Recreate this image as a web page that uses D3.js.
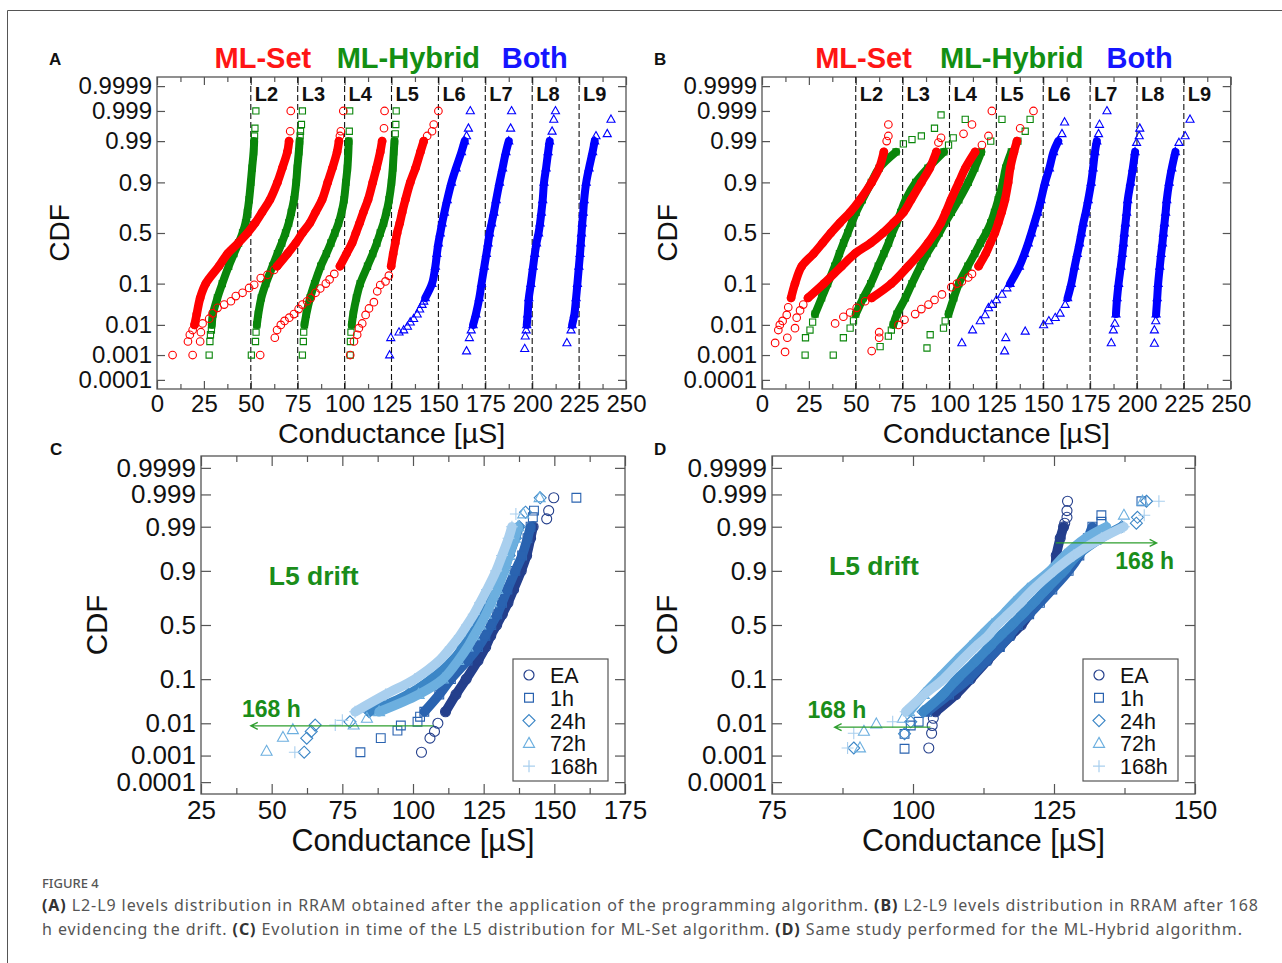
<!DOCTYPE html>
<meta charset="utf-8">
<title>Figure 4 - RRAM level distributions</title>
<style>
  body { margin: 0; background: #fff; }
  svg text { font-family: "Liberation Sans", Arial, Helvetica, sans-serif; }
</style>
<body>
<script src="https://d3js.org/d3.v7.min.js"></script>
<script>
// CDF values where the dense part of each distribution was read
var cdfLevels = [0.01, 0.02, 0.05, 0.1, 0.2, 0.3, 0.4, 0.5, 0.6, 0.7, 0.8, 0.9, 0.95, 0.98, 0.99];
var cdfTicks = [0.0001, 0.001, 0.01, 0.1, 0.5, 0.9, 0.99, 0.999, 0.9999];
var cdfTickLabels = ["0.0001", "0.001", "0.01", "0.1", "0.5", "0.9", "0.99", "0.999", "0.9999"];
var levelNames = ["L2", "L3", "L4", "L5", "L6", "L7", "L8", "L9"];
var levelBounds = [50, 75, 100, 125, 150, 175, 200, 225];
var algoNames = ["ML-Set", "ML-Hybrid", "Both"];
var timeLabels = ["EA", "1h", "24h", "72h", "168h"];

// ---- panel A : after programming (conductance in uS at cdfLevels, null = sparse) ----
var aSetCore = [
  [20, 21.2, 23, 26, 33, 37.6, 43.3, 48.2, 52.3, 56, 60.2, 64.2, 66.8, 69.5, 70.4],
  [null, null, null, null, 64, 69.5, 74, 77.5, 81.5, 84.5, 88, 91, 93.5, 96, 97],
  [null, null, null, null, 97.5, 101, 104, 106, 108, 110, 112.5, 115, 117, 119, 120],
  [null, null, null, null, 124.8, 125.9, 127, 128, 129.4, 130.7, 132.4, 135, 137.8, 140.4, 142.2]
];
// isolated points [conductance, CDF]
var aSetTail = [
  [[8.3, 0.001], [16.5, 0.003], [17.5, 0.005], [19, 0.007], [71, 0.995], [71.3, 0.999]],
  [[19, 0.001], [23, 0.003], [23.4, 0.006], [24.3, 0.011], [27.8, 0.015], [29.6, 0.021], [32.3, 0.029], [35.8, 0.035], [39.4, 0.042], [42, 0.055], [45.6, 0.065], [49.1, 0.082], [51.8, 0.095], [55.3, 0.127], [58.9, 0.145], [62.4, 0.175], [97.5, 0.993], [98, 0.995], [99.3, 0.999]],
  [[55, 0.001], [62.8, 0.004], [64, 0.007], [66, 0.01], [68, 0.013], [70.5, 0.016], [73, 0.02], [75.5, 0.027], [77.5, 0.035], [80, 0.042], [82, 0.05], [84.5, 0.065], [87, 0.08], [90, 0.1], [92, 0.12], [94.5, 0.15], [121, 0.996], [121.3, 0.999]],
  [[103, 0.001], [105, 0.003], [106.7, 0.005], [107.6, 0.008], [109.4, 0.011], [111.2, 0.019], [113, 0.028], [115.6, 0.04], [117.4, 0.07], [119, 0.094], [121.8, 0.11], [123.6, 0.14], [144, 0.993], [146.6, 0.995], [147.5, 0.997], [150, 0.999]]
];
var aHybCore = [
  [29.2, 29.8, 32.2, 34.8, 38.2, 41, 43.5, 45.6, 47.2, 48.2, 49.1, 50, 50.7, 51.5, 51.8],
  [53.2, 54, 55.6, 58, 61.6, 64.2, 66.5, 68.5, 70.2, 71.6, 73, 74.2, 74.8, 75.6, 76],
  [78.6, 79.6, 81.6, 84, 87.3, 90.3, 92.7, 94.8, 96.8, 98.4, 99.7, 100.7, 101.5, 102, 102.2],
  [103.8, 104.6, 106.3, 108.3, 112.2, 115, 117.2, 119, 120.8, 122.3, 123.7, 125, 125.7, 126.2, 126.6]
];
var aHybTail = [
  [[27.8, 0.001], [28.2, 0.003], [28.5, 0.005], [29, 0.007], [52, 0.993], [52.2, 0.996], [52.7, 0.999]],
  [[50.3, 0.001], [52.5, 0.003], [52.8, 0.006], [76.3, 0.993], [76.5, 0.995], [77, 0.997], [77.5, 0.999]],
  [[77.5, 0.001], [78, 0.003], [78.2, 0.006], [102.5, 0.995], [102.7, 0.999]],
  [[103, 0.001], [103.1, 0.003], [103.4, 0.006], [127, 0.994], [127.3, 0.997], [127.5, 0.999]]
];
var aBothCore = [
  [null, null, 143, 146.6, 148.4, 149.2, 150, 151, 152, 153.2, 154.7, 157, 159.4, 162.3, 164],
  [168.5, 170, 171.8, 173, 174.5, 175.6, 176.5, 177.3, 178.4, 179.6, 180.8, 182.6, 184.2, 186, 187.5],
  [197.1, 197.6, 198.2, 199.3, 200.5, 201.4, 202.3, 203.4, 204.2, 204.9, 205.6, 206.3, 207.4, 208.5, 209.3],
  [221.3, 222.5, 223.4, 224.1, 224.9, 225.5, 225.9, 226.3, 226.7, 227.2, 227.7, 228.8, 230.3, 232.2, 233.3]
];
var aBothTail = [
  [[124, 0.001], [124.6, 0.004], [129, 0.006], [131.5, 0.007], [133.5, 0.009], [135, 0.012], [136.8, 0.015], [138.7, 0.02], [140, 0.027], [141.3, 0.035], [142.2, 0.042], [165, 0.993], [166, 0.996], [167, 0.999]],
  [[165, 0.0014], [166.5, 0.004], [167.5, 0.007], [188.5, 0.996], [189, 0.999]],
  [[196, 0.0017], [196.3, 0.0045], [196.8, 0.007], [210.6, 0.995], [211.5, 0.998], [212.4, 0.999]],
  [[218.5, 0.0027], [220.7, 0.007], [234, 0.993], [240, 0.994], [242, 0.998]]
];

// ---- panel B : after 168 h ----
var bSetCore = [
  [null, null, 15.5, 17.6, 21.2, 27.5, 32.3, 36.7, 41.5, 47, 52.3, 58.5, 62.5, 65, null],
  [null, null, 24.5, 33, 42.5, 49.5, 58, 64.5, 70, 75.5, 79.5, 85, 89.5, 93, null],
  [null, null, 58.5, 69, 78, 84, 88.5, 92.2, 95.4, 98, 100.8, 105, 108.5, 113.7, null],
  [null, null, null, null, 115.5, 119.3, 121.8, 124.2, 126, 127.8, 129.6, 131.3, 132.4, 134.4, 136]
];
var bSetTail = [
  [[7, 0.0027], [8.7, 0.007], [9.5, 0.01], [11, 0.013], [13.2, 0.019], [14, 0.03], [66.5, 0.99], [67.4, 0.993], [67.4, 0.997]],
  [[12.3, 0.0013], [13.5, 0.004], [17.6, 0.008], [18.5, 0.016], [20.3, 0.025], [22, 0.035], [94.1, 0.989], [95.5, 0.992], [107.5, 0.994], [112, 0.997]],
  [[39, 0.011], [43.4, 0.017], [47, 0.022], [50.5, 0.029], [55, 0.042], [117.3, 0.987], [120.8, 0.993], [122.6, 0.999]],
  [[58.5, 0.0014], [62.5, 0.004], [62.5, 0.006], [72.8, 0.01], [76, 0.014], [81.7, 0.02], [85, 0.027], [88.8, 0.035], [92, 0.045], [96, 0.06], [101, 0.085], [104, 0.1], [106.6, 0.11], [110, 0.13], [112, 0.15], [137.7, 0.996], [144.8, 0.999]]
];
var bHybCore = [
  [null, 28.3, 31.8, 35, 38.8, 41.3, 43.5, 45.7, 47.8, 50.2, 53.5, 58.3, 62.5, 71.5, null],
  [null, 50, 54, 58, 62, 65, 67.5, 69.5, 71.8, 74, 76.6, 82, 88.5, 97, null],
  [70, 72, 76.5, 80, 84.5, 88, 91.5, 94.5, 97.5, 101, 105, 110, 113.5, 117, null],
  [null, 99.5, 102.3, 105, 109.8, 113.5, 116.5, 119.5, 122, 124, 126, 128.5, 130, 133, null]
];
var bHybTail = [
  [[23, 0.001], [23.2, 0.004], [25.6, 0.007], [27, 0.012], [75.4, 0.988], [80, 0.991], [85, 0.993], [92, 0.996], [95.5, 0.9986]],
  [[38, 0.001], [43.4, 0.004], [47, 0.008], [48.8, 0.013], [99.5, 0.987], [102, 0.992], [108.4, 0.998]],
  [[63, 0.002], [67.4, 0.0045], [69, 0.007], [122, 0.99], [128, 0.998]],
  [[88, 0.0018], [89.7, 0.005], [96.8, 0.008], [97.7, 0.013], [136.5, 0.99], [140.4, 0.995], [143, 0.998]]
];
var bBothCore = [
  [null, null, null, 132.3, 137.3, 140, 142, 143.7, 145.3, 147, 148.8, 151, 153.3, 155.5, 158],
  [null, null, 163, 165, 166.8, 168.2, 169.4, 170.4, 171.4, 172.7, 174, 175.6, 176.6, 177.6, 178.6],
  [null, 188.8, 189.4, 190.2, 191.4, 192.2, 192.8, 193.3, 193.9, 194.5, 195.1, 196.6, 197.8, 199, null],
  [null, 210.2, 210.8, 211.3, 212.2, 212.9, 213.6, 214.1, 214.7, 215.3, 215.9, 217.2, 218.6, 220.5, null]
];
var bBothTail = [
  [[106.6, 0.0027], [112.3, 0.007], [116.4, 0.013], [119, 0.019], [120.8, 0.029], [122.6, 0.035], [125, 0.045], [128, 0.06], [130.6, 0.082], [160, 0.994], [161.4, 0.9975]],
  [[129.4, 0.0014], [130, 0.004], [140.4, 0.0064], [150.2, 0.01], [153, 0.013], [156.4, 0.016], [159, 0.021], [161.7, 0.035], [179.5, 0.994], [180, 0.997], [184, 0.999]],
  [[186.3, 0.0027], [187.4, 0.007], [188.2, 0.011], [199.8, 0.989], [201.2, 0.993], [201.5, 0.996]],
  [[209.3, 0.0026], [209.3, 0.007], [210, 0.013], [222.4, 0.989], [225.7, 0.993], [228.3, 0.998]]
];

// ---- panel C : L5 drift, ML-Set (EA, 1h, 24h, 72h, 168h) ----
var cCore = [
  [null, 111.5, 115.2, 118.8, 123, 125.7, 127.5, 129.6, 131.6, 133.6, 135.6, 138.3, 140.2, 141.6, 142.5],
  [null, 104, 109.3, 113.4, 119.3, 123, 125.6, 127.7, 129.8, 131.5, 133.4, 136.2, 138.6, 140.5, 141.6],
  [null, 84.5, 98.3, 106.5, 114, 117.7, 120.5, 122.8, 124.8, 127, 129.3, 132, 134, 136.2, 137.6],
  [null, 88, 102, 110.6, 116, 119.3, 121.6, 123.8, 125.8, 127.7, 129.8, 132.3, 134, 136, 137.2],
  [null, 79.5, 90.3, 100.6, 109.3, 113.4, 116.6, 119.1, 121.5, 123.7, 126.2, 129.4, 131.5, 133.8, 135]
];
var cTail = [
  [[103, 0.0013], [106, 0.0037], [107.6, 0.0059], [108.8, 0.01], [147.3, 0.994], [148, 0.9966], [149.8, 0.9987]],
  [[81.4, 0.0013], [88.6, 0.0037], [94.5, 0.0062], [95.7, 0.0087], [101.6, 0.011], [102.5, 0.015], [142.4, 0.9946], [142.8, 0.9966], [157.8, 0.9987]],
  [[61.5, 0.0013], [62.4, 0.0037], [64, 0.0059], [65.4, 0.0089], [77.7, 0.011], [139.8, 0.9962], [145, 0.9987]],
  [[48.2, 0.0014], [54, 0.0039], [57.5, 0.0066], [79, 0.0089], [83.7, 0.0136], [139, 0.9957], [144.8, 0.9987]],
  [[58.2, 0.0013], [72.5, 0.0089], [75, 0.012], [136.4, 0.9957]]
];

// ---- panel D : L5 drift, ML-Hybrid ----
var dCore = [
  [null, 104, 107.6, 110.2, 113.2, 115.4, 117.3, 119.2, 120.6, 122, 123.9, 125.1, 125.4, 126.1, 126.7],
  [null, 102.5, 106.4, 109.8, 113, 115.4, 117.1, 118.6, 120.6, 122.5, 124.7, 127.6, 129.5, 131, 131.8],
  [null, 101.8, 105.3, 107.8, 111.2, 113.5, 115.5, 117.5, 119.4, 121.4, 123.6, 126.8, 129.1, 133.3, 137],
  [null, 99.3, 101.9, 104.5, 107.7, 110.1, 112.1, 114, 116, 117.9, 120.3, 124.3, 126.9, 130.6, 134.3],
  [null, 98.7, 102, 105.4, 108.6, 111, 113.3, 114.9, 116.9, 119, 121.3, 125, 128.5, 133.4, 137.4]
];
var dTail = [
  [[102.8, 0.0018], [103.3, 0.0052], [103.4, 0.0087], [103.6, 0.0136], [126.9, 0.992], [127.3, 0.9946], [127.3, 0.9966], [127.4, 0.9983]],
  [[98.5, 0.0017], [98.5, 0.005], [99.6, 0.0087], [101, 0.011], [133.4, 0.9927], [133.4, 0.9953], [140.5, 0.9983]],
  [[89.5, 0.0018], [98.5, 0.005], [99.6, 0.011], [139.6, 0.992], [139.8, 0.9946], [141.4, 0.9983]],
  [[90.6, 0.0018], [91.3, 0.0059], [93.5, 0.0096], [98.2, 0.0136], [137.4, 0.9953], [140.7, 0.9983]],
  [[88.4, 0.0018], [89.5, 0.0052], [96.4, 0.011], [141, 0.9953], [143.6, 0.9983]]
];

// drift arrows [from uS, to uS, CDF]
var cArrow = [107.2, 42.6, 0.0085];
var dArrowLow = [103.1, 86.1, 0.0078];
var dArrowHigh = [125.3, 143.2, 0.974];

var algoColors = ["#ff0000", "#0a860a", "#0000ff"];
var titleColors = ["#ff1515", "#138f13", "#1515ff"];
var timeColors = ["#243f8c", "#2a63b0", "#3c86c6", "#6cafdf", "#a9cfee"];
var timeShapes = ["circle", "square", "diamond", "triangle", "plus"];
var annotColor = "#1a8d1a";

// inverse normal CDF (Acklam) for the probability axis
function probit(p) {
  var a = [-39.69683028665376, 220.9460984245205, -275.9285104469687, 138.357751867269, -30.66479806614716, 2.506628277459239];
  var b = [-54.47609879822406, 161.5858368580409, -155.6989798598866, 66.80131188771972, -13.28068155288572];
  var c = [-0.007784894002430293, -0.3223964580411365, -2.400758277161838, -2.549732539343734, 4.374664141464968, 2.938163982698783];
  var d = [0.007784695709041462, 0.3224671290700398, 2.445134137142996, 3.754408661907416];
  var q, r;
  if (p < 0.02425) {
    q = Math.sqrt(-2 * Math.log(p));
    return (((((c[0] * q + c[1]) * q + c[2]) * q + c[3]) * q + c[4]) * q + c[5]) / ((((d[0] * q + d[1]) * q + d[2]) * q + d[3]) * q + 1);
  }
  if (p > 1 - 0.02425) {
    q = Math.sqrt(-2 * Math.log(1 - p));
    return -(((((c[0] * q + c[1]) * q + c[2]) * q + c[3]) * q + c[4]) * q + c[5]) / ((((d[0] * q + d[1]) * q + d[2]) * q + d[3]) * q + 1);
  }
  q = p - 0.5; r = q * q;
  return (((((a[0] * r + a[1]) * r + a[2]) * r + a[3]) * r + a[4]) * r + a[5]) * q / (((((b[0] * r + b[1]) * r + b[2]) * r + b[3]) * r + b[4]) * r + 1);
}

function markerPath(shape, s) {
  if (shape == "circle") return "M" + s + ",0A" + s + "," + s + " 0 1,1 " + (-s) + ",0A" + s + "," + s + " 0 1,1 " + s + ",0Z";
  if (shape == "square") return "M" + (-s) + "," + (-s) + "h" + 2 * s + "v" + 2 * s + "h" + (-2 * s) + "Z";
  if (shape == "diamond") return "M0," + (-s) + "L" + s + ",0L0," + s + "L" + (-s) + ",0Z";
  if (shape == "triangle") return "M0," + (-s) + "L" + 0.92 * s + "," + 0.65 * s + "L" + (-0.92 * s) + "," + 0.65 * s + "Z";
  return "M" + (-s) + ",0H" + s + "M0," + (-s) + "V" + s;
}

var svg = d3.select("body").append("svg").attr("width", 1282).attr("height", 963);
svg.append("rect").attr("width", 1282).attr("height", 963).attr("fill", "#fff");
svg.append("path").attr("d", "M7.5,963V10.5H1282").attr("fill", "none").attr("stroke", "#555").attr("stroke-width", 1);

function styleAxis(a, fs) {
  a.select(".domain").remove();
  a.selectAll("line").attr("stroke", "#555").attr("stroke-width", 1.2);
  a.selectAll("text").attr("fill", "#111").attr("font-size", fs);
}

function panel(c) {
  var x = d3.scaleLinear().domain(c.xDomain).range([c.left, c.right]);
  var y = d3.scaleLinear().domain([-c.zMax, c.zMax]).range([c.bottom, c.top]);
  var yp = function (p) { return y(probit(p)); };
  var g = svg.append("g");
  var zt = cdfTicks.map(probit);

  g.append("g").attr("transform", "translate(0," + c.bottom + ")")
    .call(d3.axisBottom(x).tickValues(c.xMinor).tickSize(-c.minor).tickFormat(function () { return ""; }))
    .call(styleAxis, c.font);
  g.append("g").attr("transform", "translate(0," + c.top + ")")
    .call(d3.axisTop(x).tickValues(c.xMinor).tickSize(-c.minor).tickFormat(function () { return ""; }))
    .call(styleAxis, c.font);
  g.append("g").attr("transform", "translate(0," + c.bottom + ")")
    .call(d3.axisBottom(x).tickValues(c.xTicks).tickSize(-c.tick).tickPadding(c.xpad).tickFormat(d3.format("d")))
    .call(styleAxis, c.font);
  g.append("g").attr("transform", "translate(0," + c.top + ")")
    .call(d3.axisTop(x).tickValues(c.xTicks).tickSize(-c.tick).tickFormat(function () { return ""; }))
    .call(styleAxis, c.font);
  g.append("g").attr("transform", "translate(" + c.left + ",0)")
    .call(d3.axisLeft(y).tickValues(zt).tickSize(-c.tick).tickPadding(5)
      .tickFormat(function (d, i) { return cdfTickLabels[i]; }))
    .call(styleAxis, c.font);
  g.append("g").attr("transform", "translate(" + c.right + ",0)")
    .call(d3.axisRight(y).tickValues(zt).tickSize(-c.tick).tickFormat(function () { return ""; }))
    .call(styleAxis, c.font);

  g.append("rect").attr("x", c.left).attr("y", c.top)
    .attr("width", c.right - c.left).attr("height", c.bottom - c.top)
    .attr("fill", "none").attr("stroke", "#555").attr("stroke-width", 1.3);

  g.append("text").attr("transform", "translate(" + c.cdfX + "," + (c.top + c.bottom) / 2 + ") rotate(-90)")
    .attr("text-anchor", "middle").attr("font-size", c.cdfSize).attr("fill", "#111").text("CDF");
  g.append("text").attr("x", (c.left + c.right) / 2).attr("y", c.xTitleY)
    .attr("text-anchor", "middle").attr("font-size", c.xTitleSize).attr("fill", "#111").text("Conductance [\u00b5S]");
  svg.append("text").attr("x", c.letterX).attr("y", c.letterY).attr("font-size", 17)
    .attr("font-weight", "bold").attr("fill", "#111").text(c.letter);

  return { g: g, x: x, yp: yp, c: c };
}

function series(P, core, tail, color, shape, size, band) {
  var pts = cdfLevels.map(function (p, i) { return [core[i], p]; });
  var line = d3.line()
    .defined(function (d) { return d[0] != null; })
    .x(function (d) { return P.x(d[0]); })
    .y(function (d) { return P.yp(d[1]); })
    .curve(d3.curveCatmullRom.alpha(0.5));
  P.g.append("path").datum(pts).attr("d", line)
    .attr("fill", "none").attr("stroke", color).attr("stroke-width", band)
    .attr("stroke-linecap", "round").attr("stroke-linejoin", "round");
  var marks = pts.filter(function (d) { return d[0] != null; }).concat(tail);
  P.g.append("g").selectAll("path").data(marks).join("path")
    .attr("transform", function (d) { return "translate(" + P.x(d[0]) + "," + P.yp(d[1]) + ")"; })
    .attr("d", markerPath(shape, size))
    .attr("fill", "none").attr("stroke", color).attr("stroke-width", 1.1);
}

function levelPanel(P, set, hyb, both, titleX) {
  var c = P.c;
  levelBounds.forEach(function (v, i) {
    P.g.append("line").attr("x1", P.x(v)).attr("x2", P.x(v)).attr("y1", c.top).attr("y2", c.bottom)
      .attr("stroke", "#111").attr("stroke-width", 1.1).attr("stroke-dasharray", "6,3");
    P.g.append("text").attr("x", P.x(v) + 4).attr("y", c.top + 24).attr("font-size", 20)
      .attr("font-weight", "bold").attr("fill", "#111").text(levelNames[i]);
  });
  for (var i = 0; i < 4; i++) series(P, both[0][i], both[1][i], algoColors[2], "triangle", 4.4, 8);
  for (i = 0; i < 4; i++) series(P, hyb[0][i], hyb[1][i], algoColors[1], "square", 3.1, 8);
  for (i = 0; i < 4; i++) series(P, set[0][i], set[1][i], algoColors[0], "circle", 3.8, 8.5);
  algoNames.forEach(function (n, k) {
    svg.append("text").attr("x", titleX[k]).attr("y", 68).attr("font-size", 29)
      .attr("font-weight", "bold").attr("fill", titleColors[k]).text(n);
  });
}

function arrow(P, a) {
  var x1 = P.x(a[0]), x2 = P.x(a[1]), yy = P.yp(a[2]);
  var s = x2 < x1 ? 1 : -1;
  P.g.append("path")
    .attr("d", "M" + x1 + "," + yy + "H" + x2 + "M" + (x2 + s * 7) + "," + (yy - 3.5) + "L" + x2 + "," + yy + "L" + (x2 + s * 7) + "," + (yy + 3.5))
    .attr("fill", "none").attr("stroke", "#2e9e2e").attr("stroke-width", 1.3);
}

function note(P, g, p, txt, size, anchor) {
  P.g.append("text").attr("x", P.x(g)).attr("y", P.yp(p)).attr("font-size", size)
    .attr("font-weight", "bold").attr("fill", annotColor).attr("text-anchor", anchor || "start").text(txt);
}

function markSize(shape) {
  return shape == "circle" ? 5 : shape == "square" ? 4.4 : 6;
}

function driftPanel(P, core, tail) {
  for (var i = 0; i < 5; i++) {
    series(P, core[i], tail[i], timeColors[i], timeShapes[i], markSize(timeShapes[i]), 9.5);
  }
  var c = P.c;
  var bx = c.right - 112, by = c.bottom - 135;
  P.g.append("rect").attr("x", bx).attr("y", by).attr("width", 95).attr("height", 122)
    .attr("fill", "#fff").attr("stroke", "#555").attr("stroke-width", 1.2);
  timeLabels.forEach(function (t, i) {
    var cy = by + 16 + i * 22.8;
    P.g.append("path").attr("transform", "translate(" + (bx + 16) + "," + cy + ")")
      .attr("d", markerPath(timeShapes[i], markSize(timeShapes[i]))).attr("fill", "none")
      .attr("stroke", timeColors[i]).attr("stroke-width", 1.2);
    P.g.append("text").attr("x", bx + 37).attr("y", cy + 8).attr("font-size", 21.5)
      .attr("fill", "#111").text(t);
  });
}

var A = panel({ left: 157, right: 626, top: 77, bottom: 389, xDomain: [0, 250], zMax: 3.95,
  xTicks: d3.range(0, 251, 25), xMinor: d3.range(12.5, 250, 25), tick: 8, minor: 5, font: 24, xpad: 6,
  cdfX: 69, cdfSize: 28, xTitleY: 443, xTitleSize: 28.5, letter: "A", letterX: 49, letterY: 65 });
levelPanel(A, [aSetCore, aSetTail], [aHybCore, aHybTail], [aBothCore, aBothTail], [214.6, 336.7, 501.7]);

var B = panel({ left: 762, right: 1230.7, top: 77, bottom: 389, xDomain: [0, 250], zMax: 3.95,
  xTicks: d3.range(0, 251, 25), xMinor: d3.range(12.5, 250, 25), tick: 8, minor: 5, font: 24, xpad: 6,
  cdfX: 677, cdfSize: 28, xTitleY: 443, xTitleSize: 28.5, letter: "B", letterX: 654, letterY: 65 });
levelPanel(B, [bSetCore, bSetTail], [bHybCore, bHybTail], [bBothCore, bBothTail], [815.2, 940, 1106.6]);

var C = panel({ left: 201, right: 625, top: 456, bottom: 794, xDomain: [25, 175], zMax: 4.0,
  xTicks: d3.range(25, 176, 25), xMinor: d3.range(37.5, 175, 25), tick: 10, minor: 6, font: 26, xpad: 7,
  cdfX: 107, cdfSize: 29.5, xTitleY: 851, xTitleSize: 30.5, letter: "C", letterX: 50, letterY: 455 });
driftPanel(C, cCore, cTail);
arrow(C, cArrow);
note(C, 39.5, 0.0146, "168 h", 23);
note(C, 49, 0.831, "L5 drift", 26.5);

var D = panel({ left: 772, right: 1195, top: 456, bottom: 794, xDomain: [75, 150], zMax: 4.0,
  xTicks: [75, 100, 125, 150], xMinor: [87.5, 112.5, 137.5], tick: 10, minor: 6, font: 26, xpad: 7,
  cdfX: 677, cdfSize: 29.5, xTitleY: 851, xTitleSize: 30.5, letter: "D", letterX: 654, letterY: 455 });
driftPanel(D, dCore, dTail);
arrow(D, dArrowLow);
arrow(D, dArrowHigh);
note(D, 81.3, 0.0136, "168 h", 23);
note(D, 146.3, 0.908, "168 h", 23, "end");
note(D, 85.1, 0.884, "L5 drift", 26.5);

// caption
var capFont = '"Noto Sans", "Open Sans", sans-serif';
svg.append("text").attr("x", 42).attr("y", 888).attr("font-size", 13).attr("fill", "#555")
  .attr("font-weight", 500).style("font-family", capFont).text("FIGURE 4");
var capLines = [
  [["(A)", 1], [" L2-L9 levels distribution in RRAM obtained after the application of the programming algorithm. ", 0], ["(B)", 1], [" L2-L9 levels distribution in RRAM after 168", 0]],
  [["h evidencing the drift. ", 0], ["(C)", 1], [" Evolution in time of the L5 distribution for ML-Set algorithm. ", 0], ["(D)", 1], [" Same study performed for the ML-Hybrid algorithm.", 0]]
];
var capWidths = [1216, 1200];
capLines.forEach(function (segs, i) {
  var t = svg.append("text").attr("x", 42).attr("y", 911 + i * 23.5).attr("font-size", 16)
    .attr("fill", "#555").style("font-family", capFont)
    .attr("textLength", capWidths[i]).attr("lengthAdjust", "spacing").attr("xml:space", "preserve");
  segs.forEach(function (s) {
    t.append("tspan").attr("font-weight", s[1] ? "bold" : null).attr("fill", s[1] ? "#333" : null).text(s[0]);
  });
});
</script>
</body>
